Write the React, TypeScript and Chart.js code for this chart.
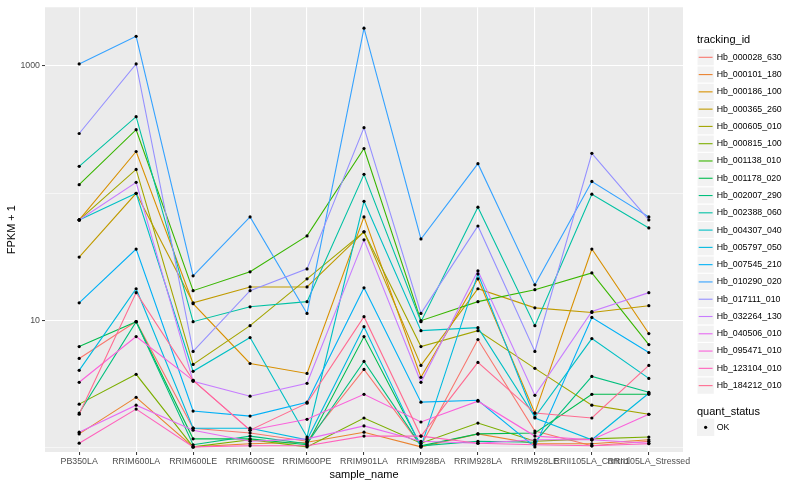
import { useEffect, useRef } from "react";
import { Chart, registerables } from "chart.js";
Chart.register(...registerables);

const FONT = "'Liberation Sans', Arial, Helvetica, sans-serif";

const categories = [
  "PB350LA", "RRIM600LA", "RRIM600LE", "RRIM600SE", "RRIM600PE", "RRIM901LA",
  "RRIM928BA", "RRIM928LA", "RRIM928LE", "RRII105LA_Control", "RRII105LA_Stressed",
];

const trackingIds = [
  "Hb_000028_630", "Hb_000101_180", "Hb_000186_100", "Hb_000365_260", "Hb_000605_010",
  "Hb_000815_100", "Hb_001138_010", "Hb_001178_020", "Hb_002007_290", "Hb_002388_060",
  "Hb_004307_040", "Hb_005797_050", "Hb_007545_210", "Hb_010290_020", "Hb_017111_010",
  "Hb_032264_130", "Hb_040506_010", "Hb_095471_010", "Hb_123104_010", "Hb_184212_010",
];

const seriesColors = [
  "#F8766D", "#EA8331", "#D89000", "#C09B00", "#A3A500", "#7CAE00", "#39B600",
  "#00BB4E", "#00BF7D", "#00C1A3", "#00BFC4", "#00BAE0", "#00B0F6", "#35A2FF",
  "#9590FF", "#C77CFF", "#E76BF3", "#FA62DB", "#FF62BC", "#FF6C91",
];

// FPKM + 1 per sample (same order as categories)
const hb000028_630 = [5.05, 9.82, 1.43, 1.31, 1.13, 4.14, 1.04, 7.11, 1.36, 1.04, 1.13];
const hb000101_180 = [1.29, 2.5, 1.02, 1.08, 1.11, 1.33, 1.02, 1.29, 1.08, 1.08, 1.16];
const hb000186_100 = [61.8, 213, 13.6, 4.61, 3.85, 65.3, 3.59, 21.3, 1.88, 36.5, 7.92];
const hb000365_260 = [31.6, 100, 13.8, 18.4, 18.4, 49.8, 4.45, 17.8, 12.6, 11.6, 13.1];
const hb000605_010 = [61.8, 154, 4.53, 9.14, 21.3, 49.8, 6.26, 8.35, 4.22, 2.17, 1.84];
const hb000815_100 = [2.21, 3.79, 1.02, 1.16, 1.02, 1.72, 1.09, 1.57, 1.13, 1.18, 1.22];
const hb001138_010 = [117, 316, 17.2, 24.2, 46.3, 225, 10, 14.1, 17.5, 23.7, 6.49];
const hb001178_020 = [6.26, 9.82, 1.18, 1.18, 1.06, 7.5, 1.04, 1.29, 1.31, 2.64, 2.64];
const hb002007_290 = [1.88, 9.82, 1.06, 1.24, 1.08, 4.78, 1.04, 1.13, 1.11, 3.65, 2.74];
const hb002388_060 = [163, 400, 9.82, 12.85, 14.1, 141, 9.82, 77.8, 9.14, 98.4, 53.5];
const hb004307_040 = [61.8, 100, 4.0, 7.37, 1.22, 86.6, 8.35, 8.81, 1.75, 7.23, 3.52];
const hb005797_050 = [4.07, 17.8, 1.43, 1.43, 1.16, 8.97, 1.02, 23.3, 1.72, 1.16, 2.69];
const hb007545_210 = [13.8, 36.5, 1.95, 1.78, 2.29, 18.1, 2.29, 2.37, 1.02, 10.6, 5.62];
const hb010290_020 = [1038, 1710, 22.5, 65.3, 11.4, 1980, 43.8, 171, 19.1, 124, 65.3];
const hb017111_010 = [295, 1038, 5.73, 17.2, 25.5, 328, 11.4, 55.4, 5.73, 206, 61.8];
const hb032264_130 = [61.8, 122, 3.34, 2.55, 3.22, 43.1, 3.28, 24.6, 2.59, 11.8, 16.6];
const hb040506_010 = [1.33, 2.17, 1.38, 1.13, 1.18, 1.49, 1.13, 1.09, 1.16, 1.16, 1.09];
const hb095471_010 = [3.28, 7.5, 3.4, 1.38, 1.68, 2.64, 1.6, 2.33, 1.24, 1.16, 1.84];
const hb123104_010 = [1.09, 2.02, 1.02, 1.04, 1.04, 1.24, 1.24, 1.09, 1.06, 1.04, 1.08];
const hb184212_010 = [1.84, 16.6, 3.4, 1.38, 2.25, 10.75, 1.24, 4.7, 1.88, 1.72, 4.45];

const seriesValues = [
  hb000028_630, hb000101_180, hb000186_100, hb000365_260, hb000605_010,
  hb000815_100, hb001138_010, hb001178_020, hb002007_290, hb002388_060,
  hb004307_040, hb005797_050, hb007545_210, hb010290_020, hb017111_010,
  hb032264_130, hb040506_010, hb095471_010, hb123104_010, hb184212_010,
];

const yTicks = [1, 10, 100, 1000];
const yMajor = [10, 1000];

const panelBg = {
  id: "panelBg",
  beforeDraw(chart: any) {
    const { ctx, chartArea } = chart;
    ctx.save();
    ctx.fillStyle = "#FFFFFF";
    ctx.fillRect(0, 0, chart.width, chart.height);
    ctx.fillStyle = "#EBEBEB";
    ctx.fillRect(chartArea.left, chartArea.top, chartArea.right - chartArea.left, chartArea.bottom - chartArea.top);
    ctx.restore();
  },
};

const ggLegend = {
  id: "ggLegend",
  afterDraw(chart: any) {
    const ctx = chart.ctx;
    const x0 = 697;
    const key = 17.28;
    ctx.save();
    ctx.textBaseline = "middle";
    ctx.textAlign = "left";
    ctx.fillStyle = "#000";
    ctx.font = `11px ${FONT}`;
    ctx.fillText("tracking_id", x0, 40);
    ctx.font = `8.8px ${FONT}`;
    trackingIds.forEach((id, i) => {
      const cy = 57.3 + i * key;
      ctx.fillStyle = "#F2F2F2";
      ctx.fillRect(x0, cy - key / 2, key, key);
      ctx.strokeStyle = "#FFFFFF";
      ctx.lineWidth = 1;
      ctx.strokeRect(x0, cy - key / 2, key, key);
      ctx.strokeStyle = seriesColors[i];
      ctx.lineWidth = 1.1;
      ctx.beginPath();
      ctx.moveTo(x0 + 1.7, cy);
      ctx.lineTo(x0 + key - 1.7, cy);
      ctx.stroke();
      ctx.fillStyle = "#000";
      ctx.fillText(id, x0 + key + 2.4, cy);
    });
    ctx.font = `11px ${FONT}`;
    ctx.fillText("quant_status", x0, 411.7);
    const cy = 427.3;
    ctx.fillStyle = "#F2F2F2";
    ctx.fillRect(x0, cy - key / 2, key, key);
    ctx.fillStyle = "#000";
    ctx.beginPath();
    ctx.arc(x0 + key / 2, cy, 1.6, 0, Math.PI * 2);
    ctx.fill();
    ctx.font = `8.8px ${FONT}`;
    ctx.fillText("OK", x0 + key + 2.4, cy);
    ctx.restore();
  },
};

export default function App() {
  const ref = useRef<HTMLCanvasElement | null>(null);
  useEffect(() => {
    if (!ref.current) return;
    const lineSets = seriesValues.map((vals, i) => ({
      label: trackingIds[i],
      data: vals.map((v, j) => ({ x: j, y: v })),
      borderColor: seriesColors[i],
      backgroundColor: seriesColors[i],
      borderWidth: 1.1,
      pointRadius: 0,
      fill: false,
      tension: 0,
      order: seriesValues.length - i + 1,
    }));
    const pointSet = {
      label: "OK",
      data: seriesValues.flatMap((vals) => vals.map((v, j) => ({ x: j, y: v }))),
      showLine: false,
      pointRadius: 1.6,
      pointBackgroundColor: "#000",
      pointBorderWidth: 0,
      borderColor: "#000",
      order: 0,
    };
    const chart = new Chart(ref.current, {
      type: "line",
      data: { datasets: [...lineSets, pointSet] as any },
      plugins: [panelBg, ggLegend],
      options: {
        animation: false,
        responsive: false,
        devicePixelRatio: 1,
        events: [],
        layout: { padding: { left: 0, right: 117, top: 5, bottom: 0 } },
        plugins: { legend: { display: false }, tooltip: { enabled: false } },
        scales: {
          x: {
            type: "linear",
            min: -0.6,
            max: 10.6,
            afterBuildTicks: (scale: any) => {
              scale.ticks = categories.map((_, i) => ({ value: i }));
            },
            afterFit: (scale: any) => {
              scale.height = 48;
            },
            ticks: {
              autoSkip: false,
              maxRotation: 0,
              minRotation: 0,
              padding: 1,
              color: "#4D4D4D",
              font: { family: FONT, size: 8.8 },
              callback: (v: any) => categories[Math.round(Number(v))] ?? "",
            },
            grid: {
              color: "#FFFFFF",
              lineWidth: 1.1,
              tickColor: "#333333",
              tickLength: 3,
              tickWidth: 1,
              drawTicks: true,
            },
            border: { display: false },
            title: {
              display: true,
              text: "sample_name",
              color: "#000",
              font: { family: FONT, size: 11 },
              padding: { top: 0, bottom: 18.4 },
            },
          },
          y: {
            type: "logarithmic",
            min: 0.93,
            max: 2891,
            afterBuildTicks: (scale: any) => {
              scale.ticks = yTicks.map((v) => ({ value: v }));
            },
            afterFit: (scale: any) => {
              scale.width = 45;
            },
            ticks: {
              autoSkip: false,
              padding: 2,
              color: "#4D4D4D",
              font: { family: FONT, size: 8.8 },
              callback: (v: any) => (yMajor.includes(Number(v)) ? String(v) : ""),
            },
            grid: {
              color: "#FFFFFF",
              lineWidth: (c: any) => (yMajor.includes(c.tick?.value) ? 1.1 : 0.55),
              tickColor: (c: any) => (yMajor.includes(c.tick?.value) ? "#333333" : "rgba(0,0,0,0)"),
              tickLength: 3,
              tickWidth: 1,
              drawTicks: true,
            },
            border: { display: false },
            title: {
              display: true,
              text: "FPKM + 1",
              color: "#000",
              font: { family: FONT, size: 11 },
              padding: { top: 5.4, bottom: 0 },
            },
          },
        },
      } as any,
    });
    return () => chart.destroy();
  }, []);
  return (
    <div style={{ position: "fixed", left: 0, top: 0, width: 800, height: 500, background: "#fff" }}>
      <canvas ref={ref} width={800} height={500} style={{ width: 800, height: 500, display: "block" }} />
    </div>
  );
}
